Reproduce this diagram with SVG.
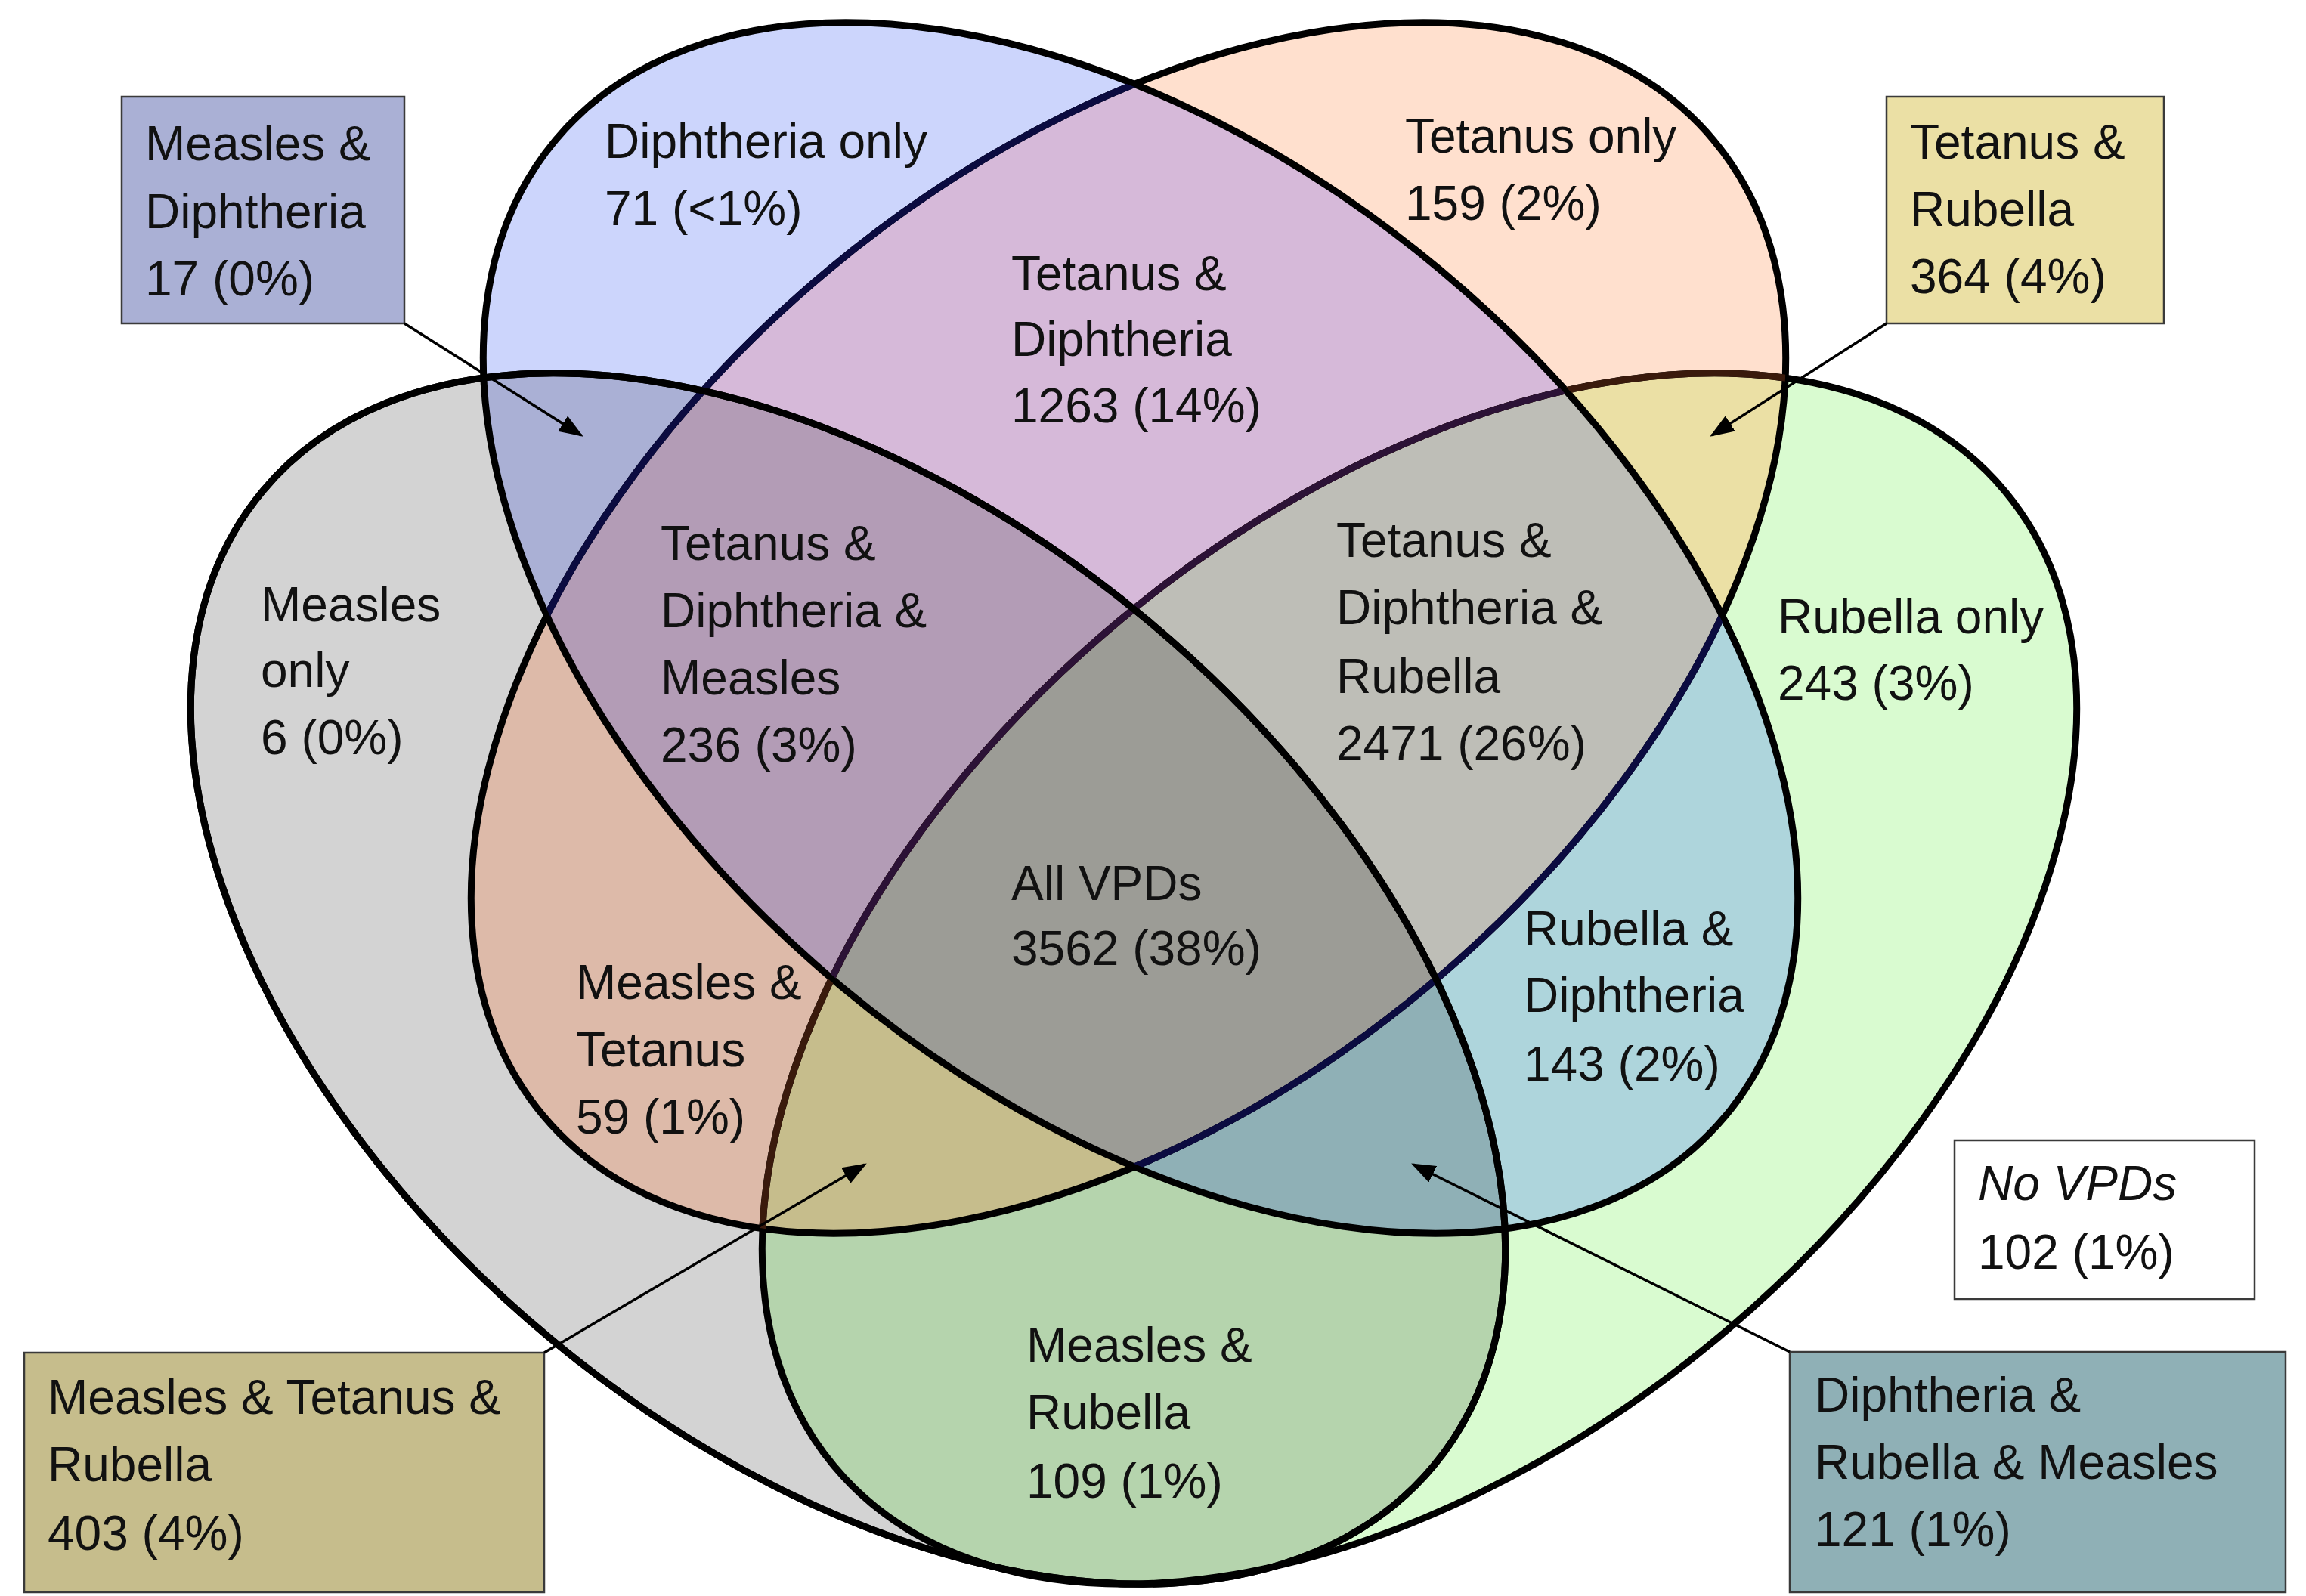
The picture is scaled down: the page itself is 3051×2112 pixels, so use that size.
<svg xmlns="http://www.w3.org/2000/svg" xmlns:xlink="http://www.w3.org/1999/xlink" width="3051" height="2112" viewBox="0 0 3051 2112">
<style>
text{font-family:"Liberation Sans",Arial,sans-serif;font-size:64px;fill:#111}
.it{font-style:italic}
.edge{fill:none;stroke:#000;stroke-width:9}
.box{stroke:#3a3a3a;stroke-width:2.5}
.conn{stroke:#000;stroke-width:3.5;fill:none}
</style>
<defs>
<ellipse id="eM" cx="1122" cy="1295" rx="1008" ry="618" transform="rotate(39.8 1122 1295)"/>
<ellipse id="eD" cx="1509" cy="831" rx="1008" ry="618" transform="rotate(39.8 1509 831)"/>
<ellipse id="eT" cx="1493" cy="831" rx="1008" ry="618" transform="rotate(-39.8 1493 831)"/>
<ellipse id="eR" cx="1878" cy="1295" rx="1008" ry="618" transform="rotate(-39.8 1878 1295)"/>
<clipPath id="cM"><use xlink:href="#eM"/></clipPath>
<clipPath id="cD"><use xlink:href="#eD"/></clipPath>
<clipPath id="cT"><use xlink:href="#eT"/></clipPath>
<clipPath id="cR"><use xlink:href="#eR"/></clipPath>
<marker id="ah" viewBox="0 0 10 10" refX="9" refY="5" markerWidth="32" markerHeight="24" markerUnits="userSpaceOnUse" orient="auto" preserveAspectRatio="none">
<path d="M0,0 L10,5 L0,10 z" fill="#000"/>
</marker>
</defs>
<rect width="3051" height="2112" fill="#fff"/>

<g id="region-fills">
<use xlink:href="#eM" fill="#D3D3D3"/>
<use xlink:href="#eR" fill="#D9FBD0"/>
<use xlink:href="#eT" fill="#FFE0CE"/>
<use xlink:href="#eD" fill="#CCD5FC"/>
<g clip-path="url(#cM)"><use xlink:href="#eD" fill="#AAB0D5"/></g>
<g clip-path="url(#cM)"><use xlink:href="#eT" fill="#DDBAA9"/></g>
<g clip-path="url(#cM)"><use xlink:href="#eR" fill="#B5D4AD"/></g>
<g clip-path="url(#cD)"><use xlink:href="#eT" fill="#D6B9D9"/></g>
<g clip-path="url(#cD)"><use xlink:href="#eR" fill="#AED5DC"/></g>
<g clip-path="url(#cT)"><use xlink:href="#eR" fill="#EBE0A5"/></g>
<g clip-path="url(#cM)"><g clip-path="url(#cD)"><use xlink:href="#eT" fill="#B39CB6"/></g></g>
<g clip-path="url(#cM)"><g clip-path="url(#cD)"><use xlink:href="#eR" fill="#8FB0B6"/></g></g>
<g clip-path="url(#cM)"><g clip-path="url(#cT)"><use xlink:href="#eR" fill="#C6BD8C"/></g></g>
<g clip-path="url(#cD)"><g clip-path="url(#cT)"><use xlink:href="#eR" fill="#BEBEB7"/></g></g>
<g clip-path="url(#cM)"><g clip-path="url(#cD)"><g clip-path="url(#cT)"><use xlink:href="#eR" fill="#9C9C96"/></g></g></g>
</g>

<g id="set-rubella"><use xlink:href="#eR" class="edge"/></g>
<g id="set-tetanus"><use xlink:href="#eT" class="edge"/></g>
<g id="set-diphtheria"><use xlink:href="#eD" class="edge"/></g>
<g id="set-measles"><use xlink:href="#eM" class="edge"/></g>
<g id="edge-tints">
<g clip-path="url(#cT)"><use xlink:href="#eR" class="edge" style="stroke:#3a1a0c"/></g>
<g clip-path="url(#cT)"><g clip-path="url(#cD)"><use xlink:href="#eR" class="edge" style="stroke:#2c1236"/></g></g>
<g clip-path="url(#cD)"><use xlink:href="#eT" class="edge" style="stroke:#0b0b40"/></g>
<use xlink:href="#eM" class="edge"/>
<use xlink:href="#eD" class="edge" style="stroke-width:7"/>
</g>

<g id="label-diphtheria-only"><text x="800" y="209">Diphtheria only<tspan x="800" y="298">71 (&lt;1%)</tspan></text></g>
<g id="label-tetanus-only"><text x="1859" y="202">Tetanus only<tspan x="1859" y="291">159 (2%)</tspan></text></g>
<g id="label-tetanus-diphtheria"><text x="1338" y="384">Tetanus &amp;<tspan x="1338" y="471">Diphtheria</tspan><tspan x="1338" y="559">1263 (14%)</tspan></text></g>
<g id="label-tdm"><text x="874" y="741">Tetanus &amp;<tspan x="874" y="830">Diphtheria &amp;</tspan><tspan x="874" y="919">Measles</tspan><tspan x="874" y="1008">236 (3%)</tspan></text></g>
<g id="label-tdr"><text x="1768" y="737">Tetanus &amp;<tspan x="1768" y="826">Diphtheria &amp;</tspan><tspan x="1768" y="917">Rubella</tspan><tspan x="1768" y="1006">2471 (26%)</tspan></text></g>
<g id="label-measles-only"><text x="345" y="822">Measles<tspan x="345" y="909">only</tspan><tspan x="345" y="998">6 (0%)</tspan></text></g>
<g id="label-rubella-only"><text x="2352" y="838">Rubella only<tspan x="2352" y="926">243 (3%)</tspan></text></g>
<g id="label-all"><text x="1338" y="1191">All VPDs<tspan x="1338" y="1277">3562 (38%)</tspan></text></g>
<g id="label-measles-tetanus"><text x="762" y="1322">Measles &amp;<tspan x="762" y="1411">Tetanus</tspan><tspan x="762" y="1500">59 (1%)</tspan></text></g>
<g id="label-rubella-diphtheria"><text x="2016" y="1251">Rubella &amp;<tspan x="2016" y="1339">Diphtheria</tspan><tspan x="2016" y="1430">143 (2%)</tspan></text></g>
<g id="label-measles-rubella"><text x="1358" y="1802">Measles &amp;<tspan x="1358" y="1891">Rubella</tspan><tspan x="1358" y="1982">109 (1%)</tspan></text></g>

<g id="callout-measles-diphtheria">
<rect class="box" x="161" y="128" width="374" height="300" fill="#AAB0D5"/>
<text x="192" y="212">Measles &amp;<tspan x="192" y="302">Diphtheria</tspan><tspan x="192" y="391">17 (0%)</tspan></text>
</g>
<g id="callout-tetanus-rubella">
<rect class="box" x="2496" y="128" width="367" height="300" fill="#EBE0A5"/>
<text x="2527" y="210">Tetanus &amp;<tspan x="2527" y="299">Rubella</tspan><tspan x="2527" y="388">364 (4%)</tspan></text>
</g>
<g id="callout-mtr">
<rect class="box" x="32" y="1790" width="688" height="317" fill="#C6BD8C"/>
<text x="63" y="1871">Measles &amp; Tetanus &amp;<tspan x="63" y="1960">Rubella</tspan><tspan x="63" y="2051">403 (4%)</tspan></text>
</g>
<g id="callout-drm">
<rect class="box" x="2368" y="1789" width="656" height="318" fill="#8FB0B6"/>
<text x="2401" y="1868">Diphtheria &amp;<tspan x="2401" y="1957">Rubella &amp; Measles</tspan><tspan x="2401" y="2046">121 (1%)</tspan></text>
</g>
<g id="box-no-vpds">
<rect class="box" x="2586" y="1509" width="397" height="210" fill="#fff"/>
<text x="2617" y="1588" class="it">No VPDs</text>
<text x="2617" y="1679">102 (1%)</text>
</g>

<g id="connectors">
<line class="conn" x1="535" y1="428" x2="769" y2="576" marker-end="url(#ah)"/>
<line class="conn" x1="2496" y1="428" x2="2265" y2="576" marker-end="url(#ah)"/>
<line class="conn" x1="720" y1="1790" x2="1144" y2="1541" marker-end="url(#ah)"/>
<line class="conn" x1="2368" y1="1789" x2="1870" y2="1541" marker-end="url(#ah)"/>
</g>
</svg>
